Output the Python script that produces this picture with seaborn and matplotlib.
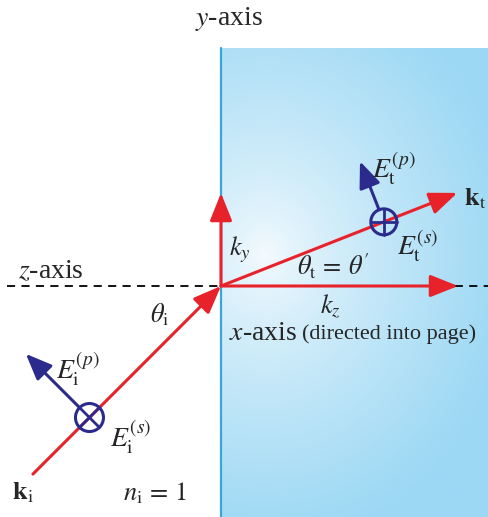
import numpy as np
import matplotlib
matplotlib.use("Agg")
import matplotlib.pyplot as plt
from matplotlib.patches import Circle
import seaborn as sns

# ---- diagram values (pixel-like units, origin at point of incidence) ----
theta_i_deg = 45.0          # angle of incidence (from normal, z-axis)
theta_t_deg = 21.5          # angle of transmission
len_ki = 266.0              # length of incident wave vector
len_kt = 254.0              # length of transmitted wave vector
len_ky = 93.0               # y component of k_t
len_kz = 237.0              # z component arrow
pos_Ei = 186.0              # distance of E_i marker from origin along k_i
pos_Et = 175.0              # distance of E_t marker from origin along k_t
len_Eip = 90.0              # length of E_i^(p) arrow
len_Etp = 65.0              # length of E_t^(p) arrow
r_Ei = 14.0
r_Et = 13.0
labels = {
    "yaxis": "$y$-axis",
    "zaxis": "$z$-axis",
    "xaxis": "$x$-axis",
    "xnote": "(directed into page)",
    "thi": r"$\theta_{\mathrm{i}}$",
    "tht": r"$\theta_{\mathrm{t}}\,=\,\theta'$",
    "ky": r"$k_y$",
    "kz": r"$k_z$",
    "ki": r"$\mathbf{k}_{\mathrm{i}}$",
    "kt": r"$\mathbf{k}_{\mathrm{t}}$",
    "ni": r"$n_{\mathrm{i}}\,=\,1$",
    "Eip": r"$E_{\mathrm{i}}^{(p)}$",
    "Eis": r"$E_{\mathrm{i}}^{(s)}$",
    "Etp": r"$E_{\mathrm{t}}^{(p)}$",
    "Ets": r"$E_{\mathrm{t}}^{(s)}$",
}

sns.set_theme(style="white")
plt.rcParams["font.family"] = ["Liberation Serif", "DejaVu Serif"]
plt.rcParams["mathtext.fontset"] = "stix"

RED = "#e8222b"
NAVY = "#2a2b8c"

W, H = 488, 517
ox, oy = 221, 286  # pixel position of origin
fig = plt.figure(figsize=(W / 100, H / 100), dpi=100)
ax = fig.add_axes([0, 0, 1, 1])
ax.set_xlim(-ox, W - ox)
ax.set_ylim(-(H - oy), oy)
ax.axis("off")


def P(px, py):
    """pixel -> data coordinates"""
    return px - ox, oy - py


# ---- blue medium with radial gradient ----
x0, x1 = 0, W - ox
y0, y1 = -(H - oy), oy - 48
nx, ny = 300, 400
gx = np.linspace(x0, x1, nx)
gy = np.linspace(y1, y0, ny)
GX, GY = np.meshgrid(gx, gy)
cx, cy = P(265, 255)
d = np.sqrt(((GX - cx) / 250.0) ** 2 + ((GY - cy) / 290.0) ** 2)
t = np.clip(d, 0, 1) ** 0.75
light = np.array([246, 251, 254]) / 255.0
deep = np.array([156, 216, 244]) / 255.0
img = light[None, None, :] * (1 - t[..., None]) + deep[None, None, :] * t[..., None]
ax.imshow(img, extent=(x0, x1, y0, y1), origin="upper", aspect="auto", zorder=0)
ax.plot([0, 0], [y0, y1], color="#3aa6d6", lw=1.6, zorder=1)

# ---- dashed z-axis ----
sns.lineplot(x=[-214, W - ox], y=[0, 0], ax=ax, color="black", lw=1.3,
             linestyle=(0, (4.5, 3.5)), zorder=2)


def arrow(start, end, color, lw, hl, hw, z=4):
    ax.annotate("", xy=end, xytext=start, zorder=z,
                arrowprops=dict(arrowstyle=f"-|>,head_length={hl},head_width={hw}",
                                color=color, lw=lw, shrinkA=0, shrinkB=0,
                                mutation_scale=20))


ti = np.radians(theta_i_deg)
tt = np.radians(theta_t_deg)
ui = np.array([np.cos(ti), np.sin(ti)])
ut = np.array([np.cos(tt), np.sin(tt)])

# incident wave vector
start_i = -len_ki * ui
arrow(tuple(start_i), (0, 0), RED, 2.2, 0.85, 0.34)
# transmitted
arrow((0, 0), tuple(len_kt * ut), RED, 2.2, 0.85, 0.34)
# components
arrow((0, 0), (0, len_ky), RED, 2.2, 0.85, 0.34)
arrow((0, 0), (len_kz, 0), RED, 2.2, 0.85, 0.34)

# E_i markers
ci = -pos_Ei * ui
ni_perp = np.array([-ui[1], ui[0]])
ax.add_patch(Circle(tuple(ci), r_Ei, fill=False, ec=NAVY, lw=2.2, zorder=6))
for a in (45, 135):
    v = r_Ei * np.array([np.cos(np.radians(a)), np.sin(np.radians(a))])
    ax.plot([ci[0] - v[0], ci[0] + v[0]], [ci[1] - v[1], ci[1] + v[1]],
            color=NAVY, lw=2.0, zorder=6)
arrow(tuple(ci + r_Ei * ni_perp), tuple(ci + len_Eip * ni_perp), NAVY, 2.2, 0.8, 0.33, z=6)

# E_t markers
ct = pos_Et * ut
nt_perp = np.array([-ut[1], ut[0]])
ax.add_patch(Circle(tuple(ct), r_Et, fill=False, ec=NAVY, lw=2.2, zorder=6))
for a in (0, 90):
    v = r_Et * np.array([np.cos(np.radians(a)), np.sin(np.radians(a))])
    ax.plot([ct[0] - v[0], ct[0] + v[0]], [ct[1] - v[1], ct[1] + v[1]],
            color=NAVY, lw=2.0, zorder=6)
arrow(tuple(ct + r_Et * nt_perp), tuple(ct + len_Etp * nt_perp), NAVY, 2.2, 0.8, 0.33, z=6)

# ---- texts ----
TC = "#262626"
def txt(px, py, s, size, ha="center", va="center", **kw):
    x, y = P(px, py)
    ax.text(x, y, s, fontsize=size, ha=ha, va=va, color=TC, zorder=8, **kw)

txt(229, 19, labels["yaxis"], 20)
txt(18, 272, labels["zaxis"], 20, ha="left")
txt(160, 315, labels["thi"], 19)
txt(333, 266, labels["tht"], 19)
txt(240, 250, labels["ky"], 19)
txt(330, 306, labels["kz"], 19)
txt(229, 333, labels["xaxis"], 20, ha="left")
txt(302, 334, labels["xnote"], 16, ha="left")
txt(23, 493, labels["ki"], 19)
txt(475, 199, labels["kt"], 19)
txt(155, 493, labels["ni"], 19)
txt(78, 369, labels["Eip"], 20)
txt(131, 437, labels["Eis"], 20)
txt(394, 168, labels["Etp"], 20)
txt(418, 246, labels["Ets"], 20)

fig.savefig("out.png", dpi=100)
